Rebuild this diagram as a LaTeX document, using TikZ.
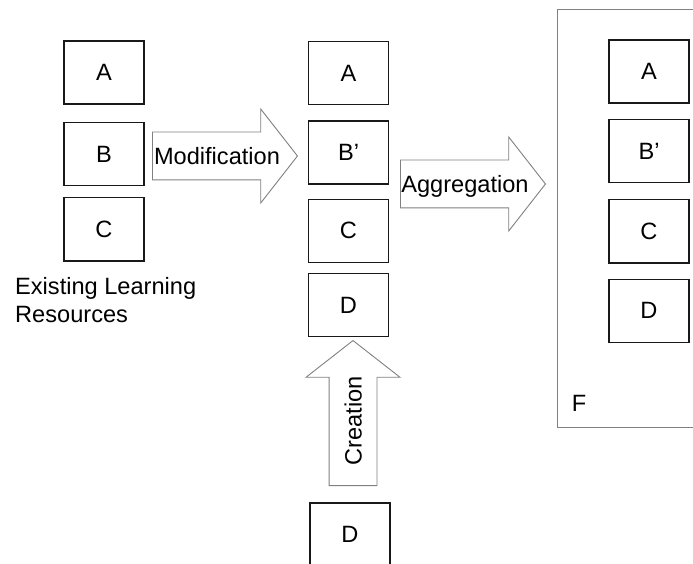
\documentclass[tikz,border=0pt]{standalone}
\usepackage{fontspec}
\setmainfont{Liberation Sans}
\usetikzlibrary{positioning, shapes.arrows}
\newcommand{\boxfont}{\fontsize{23.6}{28}\selectfont}

\begin{document}
\begin{tikzpicture}[x=1pt, y=-1pt, font=\boxfont,
    block/.style={draw=black!90, line width=1.4pt, rectangle, minimum width=80pt, minimum height=63pt, inner sep=0pt},
    bigarrow/.style={single arrow, draw=gray, line width=0.9pt, minimum height=145pt, inner sep=23.5pt, anchor=tail,
        single arrow head extend=23pt, single arrow tip angle=104, single arrow head indent=0pt},
    arrowtext/.style={inner sep=0pt, text depth=0pt}]
    \clip (0,0) rectangle (693,564);

    % existing resources
    \node[block] (la) at (104,72.5) {A};
    \node[block, below=17pt of la] (lb) {B};
    \node[block, below=11pt of lb] (lc) {C};
    \node[anchor=north west, inner sep=0pt, align=left] (exist) at (15,277) {Existing Learning\\Resources};

    % modified and created resources
    \node[block] (ma) at (348.5,73) {A};
    \node[block, below=15pt of ma] (mb) {B'};
    \node[block, below=14pt of mb] (mc) {C};
    \node[block, below=10pt of mc] (md) {D};
    \node[block] (nd) at (350,534.5) {D};

    % aggregated resource
    \node[draw=gray, line width=0.9pt, minimum width=184pt, minimum height=418pt] (frame) at (649,218) {};
    \node[block] (ra) at (649,71.5) {A};
    \node[block, below=15pt of ra] (rb) {B'};
    \node[block, below=16pt of rb] (rc) {C};
    \node[block, below=15pt of rc] (rd) {D};
    \node[anchor=base west, inner sep=0pt] (flabel) at ([shift={(15,-16)}]frame.south west) {F};

    % block arrows
    \node[bigarrow] (modif) at (152,156) {};
    \node[arrowtext] (modiftext) at ([xshift=65pt]modif.tail) {Modification};
    \node[bigarrow] (aggr) at (400,184) {};
    \node[arrowtext] (aggrtext) at ([xshift=65pt]aggr.tail) {Aggregation};
    \node[bigarrow, shape border rotate=90] (creat) at (353,486) {};
    \node[arrowtext, rotate=90] (creattext) at ([yshift=65pt]creat.tail) {Creation};
\end{tikzpicture}
\end{document}
